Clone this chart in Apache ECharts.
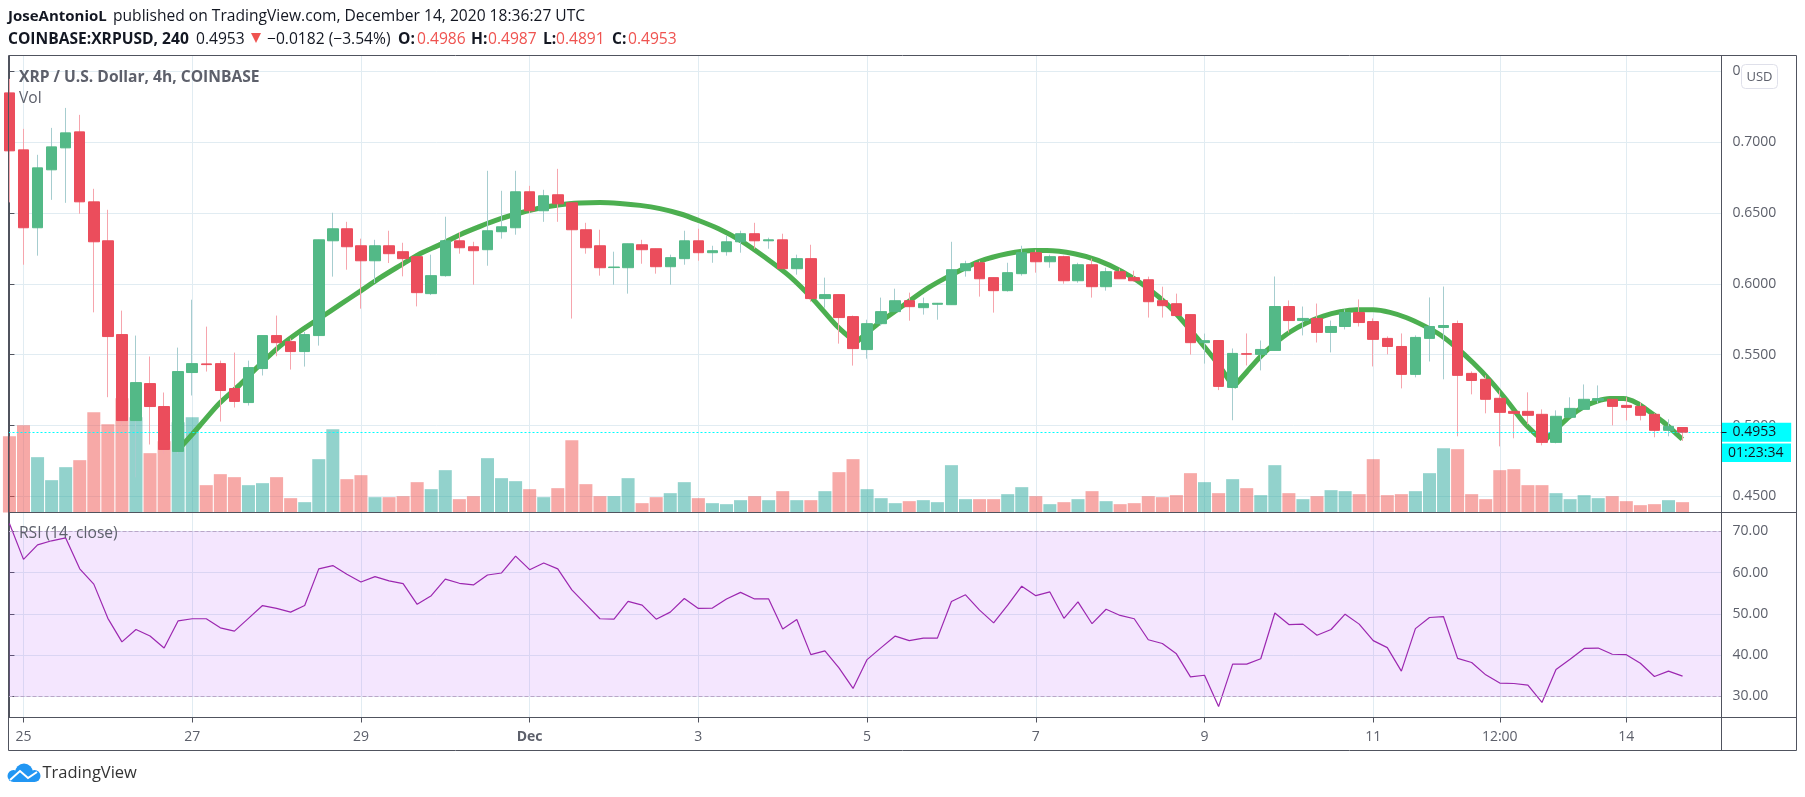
<!DOCTYPE html>
<html><head><meta charset="utf-8">
<style>html,body{margin:0;padding:0;background:#fff}#c{width:1805px;height:797px}</style>
<script src="https://cdn.jsdelivr.net/npm/echarts@6/dist/echarts.min.js"></script>
</head><body><div id="c"></div>
<script>
const opens=[.7348,.6946,.6396,.6805,.6960,.7073,.6579,.6304,.5642,.5035,.5296,.5134,.4817,.5374,.5435,.5437,.5261,.5162,.5402,.5635,.5592,.5522,.5635,.6304,.6389,.6269,.6163,.6269,.6227,.6192,.5931,.6058,.6304,.6262,.6241,.6368,.6396,.6650,.6516,.6629,.6572,.6382,.6269,.6115,
.6114,.6276,.6248,.6121,.6178,.6304,.6220,.6227,.6297,.6354,.6304,.6311,.6107,.6178,.5896,.5924,.5769,.5536,.5719,.5804,.5881,.5832,.5856,.5853,.6093,.6149,.6044,.5952,.6072,.6220,.6156,.6192,.6022,.6135,.5980,.6086,.6044,.6029,.5881,.5860,.5783,.5585,
.5600,.5269,.5507,.5502,.5530,.5840,.5741,.5756,.5657,.5699,.5798,.5734,.5615,.5558,.5361,.5615,.5692,.5720,.5368,.5326,.5192,.5100,.5100,.5079,.4881,.5058,.5114,.5178,.5185,.5142,.5135,.5079,.4966,.4986];
const closes=[.6939,.6396,.6819,.6967,.7066,.6579,.6297,.5628,.5035,.5303,.5134,.4831,.5381,.5437,.5430,.5247,.5170,.5409,.5635,.5585,.5522,.5642,.6311,.6389,.6262,.6163,.6269,.6213,.6178,.5938,.6058,.6304,.6255,.6234,.6375,.6403,.6650,.6516,.6622,.6565,.6382,.6255,.6114,.6119,
.6283,.6241,.6121,.6185,.6304,.6220,.6234,.6297,.6354,.6304,.6311,.6107,.6178,.5896,.5924,.5762,.5543,.5719,.5804,.5881,.5839,.5860,.5863,.6100,.6142,.6036,.5952,.6079,.6220,.6156,.6192,.6022,.6135,.5980,.6086,.6036,.6022,.5874,.5846,.5776,.5585,.5599,
.5276,.5509,.5503,.5537,.5840,.5741,.5756,.5657,.5699,.5798,.5727,.5608,.5558,.5361,.5622,.5699,.5706,.5354,.5318,.5185,.5093,.5086,.5072,.4881,.5065,.5121,.5185,.5190,.5135,.5128,.5072,.4966,.4994,.4953];
const lows=[.6575,.6135,.6199,.6593,.6572,.6495,.5799,.5200,.5000,.4634,.4866,.4800,.4800,.5212,.5381,.5028,.5127,.5141,.5353,.5489,.5395,.5416,.5564,.6051,.6100,.5825,.6006,.6147,.6053,.5841,.5921,.6050,.6213,.5994,.6128,.6319,.6347,.6499,.6438,.6438,.5755,.6213,.6058,.5994,
.5931,.6142,.6072,.5994,.6135,.6163,.6149,.6199,.6220,.6248,.6248,.6107,.6065,.5874,.5832,.5578,.5423,.5472,.5705,.5804,.5740,.5783,.5747,.5853,.6051,.5910,.5797,.5945,.6058,.6079,.6114,.6001,.6008,.5903,.5952,.6036,.6015,.5762,.5762,.5776,.5501,.5437,
.5250,.5037,.5424,.5389,.5530,.5657,.5636,.5586,.5516,.5678,.5699,.5417,.5502,.5262,.5340,.5452,.5326,.4924,.5220,.5086,.4853,.4910,.5008,.4860,.4874,.5058,.5114,.5156,.5001,.5036,.5036,.4917,.4924,.4891];
const highs=[.7447,.7094,.6911,.7101,.7242,.7193,.6671,.6523,.5811,.5635,.5487,.5233,.5550,.5888,.5698,.5458,.5515,.5458,.5635,.5776,.5614,.5660,.6311,.6502,.6438,.6319,.6311,.6375,.6290,.6192,.6206,.6474,.6366,.6297,.6798,.6657,.6798,.6692,.6664,.6812,.6572,.6431,.6382,.6227,
.6283,.6311,.6248,.6206,.6375,.6389,.6269,.6340,.6375,.6431,.6326,.6354,.6206,.6276,.6044,.5924,.5776,.5747,.5903,.5966,.5938,.5903,.5865,.6297,.6163,.6163,.6044,.6149,.6269,.6241,.6206,.6199,.6149,.6178,.6114,.6107,.6093,.6051,.5980,.5931,.5783,.5649,
.5600,.5544,.5650,.5600,.6052,.5883,.5840,.5861,.5741,.5819,.5890,.5756,.5629,.5650,.5636,.5904,.5981,.5741,.5382,.5354,.5248,.5100,.5234,.5114,.5107,.5199,.5290,.5283,.5185,.5199,.5163,.5086,.5044,.4987];
const volumes=[229,262,166,97,136,157,301,265,343,286,178,214,271,286,82,115,106,82,88,106,43,31,160,250,100,112,46,46,49,91,70,127,40,49,163,103,94,70,46,73,217,85,49,49,
103,28,46,58,91,43,28,25,37,49,37,64,37,37,64,121,160,70,43,28,34,37,31,142,40,40,40,55,76,49,25,31,40,64,34,25,28,49,46,52,118,91,
58,100,73,52,142,58,40,49,67,64,55,160,52,55,64,118,193,190,55,40,127,130,82,82,58,40,52,43,49,34,22,25,37,31];
const rsi=[71.9,63.2,66.7,67.7,68.4,60.9,57.2,48.9,43.2,46.2,44.6,41.7,48.3,48.8,48.8,46.6,45.8,48.9,52.0,51.3,50.4,52.0,60.9,61.7,59.6,57.7,59.0,58.0,57.3,52.3,54.4,58.4,57.4,57.0,59.4,59.9,64.0,60.7,62.3,60.9,55.8,52.3,48.8,48.7,
53.0,52.1,48.7,50.4,53.7,51.3,51.4,53.6,55.2,53.6,53.6,46.3,48.6,40.1,41.0,36.9,31.9,38.9,41.8,44.6,43.5,44.1,44.1,53.0,54.6,50.9,47.8,52.1,56.7,54.4,55.3,48.9,52.9,47.6,51.1,49.6,48.8,43.7,42.8,40.3,34.7,35.1,27.5,
37.8,37.8,39.1,50.2,47.4,47.5,44.8,46.2,49.9,47.5,43.5,41.8,36.1,46.4,49.1,49.3,39.2,38.2,35.2,33.2,33.1,32.7,28.5,36.5,39.0,41.6,41.7,40.2,40.1,38.0,34.8,36.1,34.9];
const arc1Bar=[12.25,13.55,14.97,16.4,17.82,19.24,20.66,22.09,23.51,24.93,26.35,27.78,29.2,30.62,32.04,33.47,34.89,36.31,37.73,39.16,40.58,42.0,43.42,44.85,46.27,47.69,49.0,50.44,51.98,53.81,55.5,57.19,58.87,60.2];
const arc1Price=[.4854,.5000,.5160,.5289,.5430,.5560,.5665,.5759,.5853,.5947,.6042,.6129,.6213,.6277,.6347,.6406,.6458,.6500,.6535,.6559,.6571,.6575,.6568,.6554,.6531,.6495,.6448,.6389,.6307,.6182,.6053,.5888,.5700,.5585];
const arc2Bar=[60.2,61.69,63.65,65.34,67.03,69.0,70.96,72.93,73.78,75.75,77.43,79.12,80.81,82.49,84.18,85.39,86.1,87.05];
const arc2Price=[.5585,.5712,.5853,.5971,.6065,.6159,.6213,.6236,.6236,.6213,.6166,.6088,.5982,.5841,.5653,.5507,.5415,.5272];
const arc3Bar=[87.05,88.0,88.95,89.9,91.08,92.27,93.45,94.64,95.82,97.0,98.19,99.38,100.56,101.75,102.93,104.12,105.3,106.49,107.67,108.5,109.17];
const arc3Price=[.5272,.5378,.5484,.5571,.5660,.5726,.5773,.5803,.5817,.5817,.5799,.5761,.5707,.5641,.5549,.5441,.5319,.5178,.5025,.4943,.4891];
const arc4Bar=[109.17,110.05,110.99,111.94,112.89,113.84,114.79,115.74,116.68,117.63,118.98];
const arc4Price=[.4891,.4978,.5065,.5131,.5171,.5190,.5190,.5159,.5096,.5025,.4903];
const timeTickBars=[1,13,25,37,49,61,73,85,97,106,115];
const timeTickLabels=['25','27','29','Dec','3','5','7','9','11','12:00','14'];
const priceTicks=[.45,.50,.55,.60,.65,.70,.75];
const rsiTicks=[30,40,50,60,70];
const lastPrice=.4953;

const FONT='"Open Sans"';
const UP='#53b987',DOWN='#eb4d5c',UPW='#a6cdcf',DOWNW='#f6a5ad';
const FRAME='#50535e',GRID='#e1ecf2',TXT='#5d606b';
const bars=opens.map((_,i)=>i);
const wickData=bars.map(i=>[i,opens[i],closes[i],lows[i],highs[i]]);
const bodyData=bars.map(i=>[i,opens[i],closes[i],Math.min(opens[i],closes[i]),Math.max(opens[i],closes[i])]);
const xCommon={type:'value',min:-0.067,max:121.77,splitLine:{show:true,lineStyle:{color:GRID,width:1}}};
const arc=(b,p)=>({type:'line',xAxisIndex:0,yAxisIndex:0,data:b.map((x,i)=>[x,p[i]]),smooth:0.3,showSymbol:false,symbol:'none',z:3,
  lineStyle:{color:'#4caf50',width:5},silent:true});
const T=(x,y,text,o={})=>({type:'text',x,y,z:50,style:{text,font:`${o.w||'normal'} ${o.s||15.6}px ${FONT}`,fill:o.c||'#131722',textVerticalAlign:'middle',textAlign:o.a||'left'}});
const chart=echarts.init(document.getElementById('c'),null,{renderer:'canvas'});
chart.setOption({
 animation:false,backgroundColor:'#fff',
 grid:[{left:8.5,top:55.5,width:1713,height:457,containLabel:false},{left:8.5,top:512.5,width:1713,height:205,containLabel:false}],
 xAxis:[
  Object.assign({},xCommon,{gridIndex:0,axisLine:{show:true,lineStyle:{color:FRAME}},axisTick:{show:false,customValues:timeTickBars},axisLabel:{show:false,customValues:timeTickBars}}),
  Object.assign({},xCommon,{gridIndex:1,axisLine:{show:true,lineStyle:{color:FRAME}},axisTick:{show:true,length:5,lineStyle:{color:FRAME},customValues:timeTickBars},
    axisLabel:{show:true,customValues:timeTickBars,margin:13,fontFamily:FONT,fontSize:14,color:TXT,
      formatter:v=>{const l=timeTickLabels[timeTickBars.indexOf(Math.round(v))];return l==='Dec'?'{b|Dec}':l;},
      rich:{b:{fontFamily:FONT,fontSize:14,fontWeight:'bold',color:TXT}}}})
 ],
 yAxis:[
  {type:'value',gridIndex:0,position:'right',min:.4386,max:.7612,axisLine:{show:true,lineStyle:{color:FRAME}},axisTick:{show:true,length:5,lineStyle:{color:FRAME},customValues:priceTicks},
   splitLine:{show:true,lineStyle:{color:GRID}},axisLabel:{customValues:priceTicks,margin:11,padding:[3,0,0,0],fontFamily:FONT,fontSize:14,color:TXT,formatter:v=>v.toFixed(4)}},
  {type:'value',gridIndex:0,min:0,max:1371,show:false,splitLine:{show:false}},
  {type:'value',gridIndex:1,position:'right',min:24.86,max:74.56,axisLine:{show:true,lineStyle:{color:FRAME}},axisTick:{show:true,length:5,lineStyle:{color:FRAME},customValues:rsiTicks},
   splitLine:{show:true,lineStyle:{color:GRID}},axisLabel:{customValues:rsiTicks,margin:11,padding:[3,0,0,0],fontFamily:FONT,fontSize:14,color:TXT,formatter:v=>v.toFixed(2)}}
 ],
 series:[
  {type:'bar',name:'Vol',xAxisIndex:0,yAxisIndex:1,barWidth:13,z:1,data:bars.map(i=>[i,volumes[i]]),
   itemStyle:{color:p=>closes[p.dataIndex]>=opens[p.dataIndex]?'rgba(38,166,154,.5)':'rgba(239,83,80,.5)'}},
  arc(arc1Bar,arc1Price),arc(arc2Bar,arc2Price),arc(arc3Bar,arc3Price),arc(arc4Bar,arc4Price),
  {type:'candlestick',name:'wick',xAxisIndex:0,yAxisIndex:0,z:4,barWidth:1,data:wickData,encode:{x:0,y:[1,2,3,4]},
   itemStyle:{color:UPW,color0:DOWNW,borderColor:UPW,borderColor0:DOWNW,borderWidth:1},
   markLine:{silent:true,symbol:'none',animation:false,precision:4,lineStyle:{color:'#00ffff',type:[2,2],width:1},
     label:{show:true,position:'end',distance:0,formatter:()=>lastPrice.toFixed(4),backgroundColor:'#00ffff',color:'#131722',fontFamily:FONT,fontSize:14,padding:[1,15,1,11],lineHeight:17},
     data:[{yAxis:lastPrice}]}},
  {type:'candlestick',name:'body',xAxisIndex:0,yAxisIndex:0,z:5,barWidth:11,data:bodyData,encode:{x:0,y:[1,2,3,4]},
   itemStyle:{color:UP,color0:DOWN,borderColor:UP,borderColor0:DOWN,borderWidth:1}},
  {type:'line',name:'RSI',xAxisIndex:1,yAxisIndex:2,z:4,data:bars.map(i=>[i,rsi[i]]),showSymbol:false,symbol:'none',lineStyle:{color:'#9c27b0',width:1.2},
   markArea:{silent:true,itemStyle:{color:'rgba(180,90,250,.15)'},data:[[{yAxis:70},{yAxis:30}]]},
   markLine:{silent:true,symbol:'none',label:{show:false},lineStyle:{color:'#b9a6c8',type:'dashed',width:1},data:[{yAxis:70},{yAxis:30}]}}
 ],
 graphic:{elements:[
  {type:'polyline',z:40,shape:{points:[[8.5,55.5],[1796.5,55.5],[1796.5,750.5],[8.5,750.5],[8.5,55.5]]},style:{fill:null,stroke:FRAME,lineWidth:1}},
  {type:'line',z:40,shape:{x1:8.5,y1:512.5,x2:1796.5,y2:512.5},style:{stroke:FRAME,lineWidth:1}},
  {type:'line',z:40,shape:{x1:8.5,y1:717.5,x2:1796.5,y2:717.5},style:{stroke:FRAME,lineWidth:1}},
  {type:'line',z:40,shape:{x1:1721.5,y1:55.5,x2:1721.5,y2:750.5},style:{stroke:FRAME,lineWidth:1}},
  {type:'line',z:52,shape:{x1:1721.5,y1:432.5,x2:1726.5,y2:432.5},style:{stroke:'#131722',lineWidth:1}},
  {type:'rect',z:45,shape:{x:1722,y:443.5,width:69,height:18.5},style:{fill:'#00ffff'}},
  T(1728,453,'01:23:34',{s:14}),
  {type:'rect',z:45,shape:{x:1741.5,y:64.5,width:36,height:24,r:4},style:{fill:'#fff',stroke:'#dfe0ea',lineWidth:1}},
  T(1759.5,77,'USD',{s:13,c:TXT,a:'center'}),
  T(8,17,'JoseAntonioL',{w:'bold',s:15}),
  T(113,17,'published on TradingView.com, December 14, 2020 18:36:27 UTC'),
  T(8,40,'COINBASE:XRPUSD, 240',{w:'bold'}),
  T(196,40,'0.4953'),
  {type:'polygon',z:50,shape:{points:[[251,33],[261,33],[256,43]]},style:{fill:'#ef5350'}},
  T(267,40,'\u22120.0182 (\u22123.54%)'),
  T(398,40,'O:',{w:'bold'}),T(417,40,'0.4986',{c:'#ef5350'}),
  T(471,40,'H:',{w:'bold'}),T(488,40,'0.4987',{c:'#ef5350'}),
  T(543,40,'L:',{w:'bold'}),T(556,40,'0.4891',{c:'#ef5350'}),
  T(612,40,'C:',{w:'bold'}),T(628,40,'0.4953',{c:'#ef5350'}),
  T(19,78,'XRP / U.S. Dollar, 4h, COINBASE',{w:'bold',c:TXT}),
  T(19,99,'Vol',{c:TXT}),
  T(19,534,'RSI (14, close)',{c:TXT}),
  {type:'circle',z:50,shape:{cx:13.5,cy:776,r:6},style:{fill:'#2196f3'}},
  {type:'circle',z:50,shape:{cx:24,cy:772.5,r:9},style:{fill:'#2196f3'}},
  {type:'circle',z:50,shape:{cx:34.5,cy:776,r:6},style:{fill:'#2196f3'}},
  {type:'rect',z:50,shape:{x:13.5,y:776,width:21,height:6},style:{fill:'#2196f3'}},
  {type:'polyline',z:51,shape:{points:[[10,780],[20,771],[28,778],[37,772]]},style:{fill:null,stroke:'#fff',lineWidth:2}},
  T(42.5,773.5,'TradingView',{s:16.5,c:'#333'})
 ]}
});
</script></body></html>
